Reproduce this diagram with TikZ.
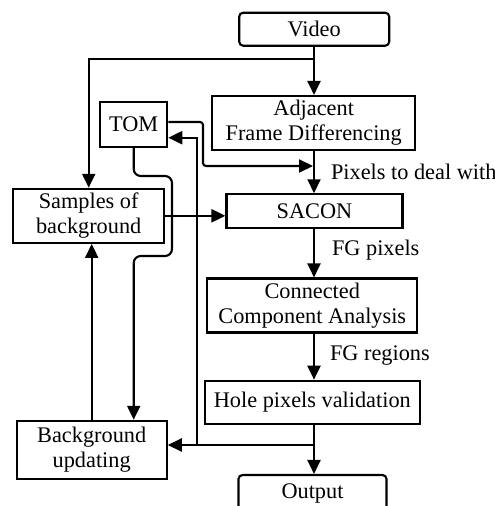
\documentclass[tikz,border=0pt]{standalone}
\usepackage{fontspec}
\setmainfont{Liberation Serif}
\usetikzlibrary{arrows.meta,calc}
\begin{document}
\begin{tikzpicture}[x=1pt,y=-1pt,
  line width=2.1pt,
  font=\fontsize{22.3}{25}\selectfont,
  box/.style={draw, rectangle, inner sep=0pt, align=center},
  term/.style={box, rounded corners=4pt},
  arrow/.style={-{Triangle[length=14pt,width=13pt]}},
  lbl/.style={anchor=west, inner sep=0pt}]
  \path[use as bounding box] (0,0) rectangle (495,506);
  \clip (0,0) rectangle (495,506);

  % blocks
  \node[term, minimum width=150pt, minimum height=33pt] (video) at (314.2,29.2) {Video};
  \node[box, minimum width=203pt, minimum height=54pt] (adf) at (313.7,123) {Adjacent\\Frame Differencing};
  \node[box, minimum width=176pt, minimum height=34pt] (sacon) at (314.5,211.3) {SACON};
  \node[box, minimum width=67pt, minimum height=45pt] (tom) at (133.7,124.2) {TOM};
  \node[box, minimum width=151pt, minimum height=54pt] (samples) at (88.7,215.8) {Samples of\\background};
  \node[box, minimum width=210pt, minimum height=54pt] (cca) at (312.3,305.5) {Connected\\Component Analysis};
  \node[box, minimum width=215pt, minimum height=43pt] (hole) at (312.3,402.2) {Hole pixels validation};
  \node[box, minimum width=150pt, minimum height=58pt] (bgupd) at (91.7,449.8) {Background\\updating};
  \node[term, minimum width=148pt, minimum height=36pt] (output) at (312.5,493) {Output};

  % reference points on the main vertical axis
  \coordinate (axis) at (314,0);
  \coordinate (split) at (314,59);
  \coordinate (merge) at (314,445);
  \coordinate (fb) at (196.7,445);

  % main flow
  \draw[arrow] (video.south -| axis) -- (adf.north -| axis);
  \draw[arrow] (adf.south -| axis) -- (sacon.north -| axis);
  \draw[arrow] (sacon.south -| axis) -- (cca.north -| axis);
  \draw[arrow] (cca.south -| axis) -- (hole.north -| axis);
  \draw[arrow] (hole.south -| axis) -- (output.north -| axis);

  % video to background samples
  \draw[arrow] (split) -| (samples.north);
  \draw[arrow] (samples.east) -- (samples.east -| sacon.west);

  % TOM to the frame-difference output
  \draw[arrow, rounded corners=3pt] (tom.east |- 0,122) -- (203,122) -- (203,166) -- (313,166);

  % feedback from the output
  \draw[line width=1.6pt] (merge) -- (fb);
  \draw[arrow] (fb) -- (bgupd.east |- fb);
  \draw[arrow] (fb) |- (tom.east |- 0,137.7);

  % background update loop
  \draw[arrow] (bgupd.north) -- (bgupd.north |- samples.south);
  \draw[arrow, rounded corners=7pt] (tom.south) |- (172,176) -- (172,256) -| (tom.south |- bgupd.north);

  % labels
  \node[lbl] at (330,171.7) {Pixels to deal with};
  \node[lbl] at (331,250) {FG pixels};
  \node[lbl] at (329,356) {FG regions};
\end{tikzpicture}
\end{document}
